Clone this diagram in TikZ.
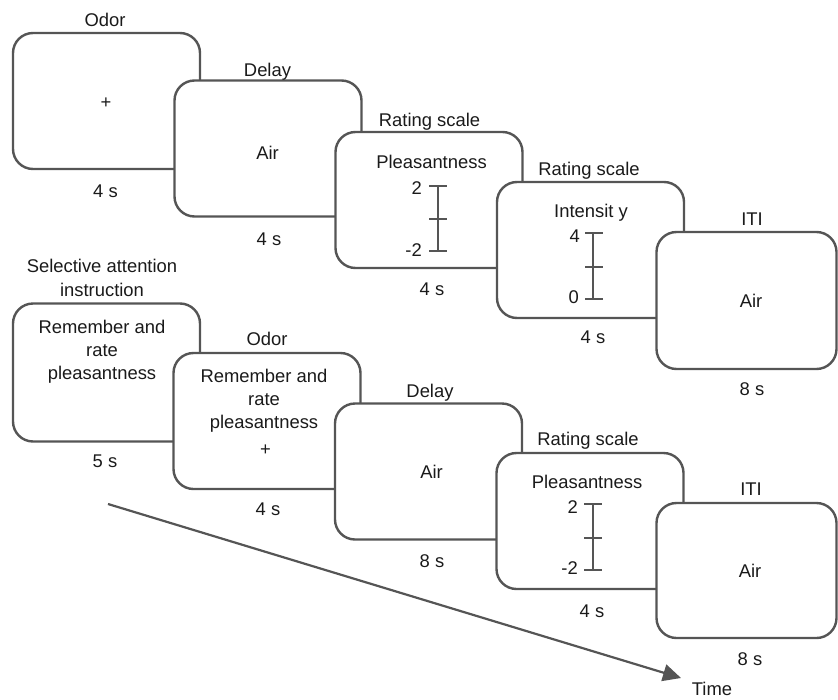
\documentclass[tikz,border=0pt]{standalone}
\usepackage{fontspec}
\setmainfont{Liberation Sans}
\usetikzlibrary{arrows.meta}
\definecolor{lc}{HTML}{555555}
\definecolor{tc}{HTML}{1A1A1A}
\begin{document}
\begin{tikzpicture}[x=1pt,y=-1pt,
  frame/.style={draw=lc, line width=2.4pt, fill=white, rounded corners=20pt, inner sep=0pt, outer sep=0pt, minimum width=187pt, minimum height=136pt},
  txt/.style={text=tc, font=\fontsize{18.4}{23.2}\selectfont, inner sep=0pt, anchor=base},
  mtxt/.style={text=tc, font=\fontsize{18.4}{23.2}\selectfont, inner sep=0pt, align=center, anchor=center},
  lbl/.style={txt, anchor=base east},
  scl/.style={draw=lc, line width=1.6pt},
  arr/.style={draw=lc, line width=2.2pt, -{Triangle[length=18pt,width=17pt]}}
]
\useasboundingbox (0,0) rectangle (838,699);

% ---------- top row ----------
\node[frame] (b1) at (106.5,101) {};
\node[txt] (b1t) at (105,26) {Odor};
\node[txt, anchor=center] (b1c) at (106,103) {+};
\node[txt] (b1d) at (105.5,197) {4 s};

\node[frame] (b2) at (268,148.5) {};
\node[txt] (b2t) at (267.5,76) {Delay};
\node[txt] (b2c) at (267.5,159) {Air};
\node[txt] (b2d) at (269,245) {4 s};

\node[frame] (b3) at (429,200) {};
\node[txt] (b3t) at (429.5,126) {Rating scale};
\node[txt] (b3c) at (431.5,168) {Pleasantness};
\draw[scl] (438,186) -- (438,251);
\draw[scl] (429,186) -- (447,186);
\draw[scl] (429,219) -- (447,219);
\draw[scl] (429,251) -- (447,251);
\node[lbl] (b3h) at (422,194) {2};
\node[lbl] (b3l) at (422,256) {-2};
\node[txt] (b3d) at (432,295) {4 s};

\node[frame] (b4) at (590.5,250) {};
\node[txt] (b4t) at (589,175) {Rating scale};
\node[txt] (b4c) at (591,217) {Intensit y};
\draw[scl] (593,233) -- (593,299);
\draw[scl] (585,233) -- (603,233);
\draw[scl] (585,267) -- (603,267);
\draw[scl] (585,299) -- (603,299);
\node[lbl] (b4h) at (580,242) {4};
\node[lbl] (b4l) at (579,303) {0};
\node[txt] (b4d) at (593,343) {4 s};

\node[frame, minimum width=180pt, minimum height=137pt] (b5) at (746.5,300.5) {};
\node[txt] (b5t) at (752,225) {ITI};
\node[txt] (b5c) at (751,307) {Air};
\node[txt] (b5d) at (752,395) {8 s};

% ---------- bottom row ----------
\node[mtxt] (a0) at (102,278) {Selective attention\\instruction};
\node[frame, minimum height=138pt] (c1) at (106.5,372.5) {};
\node[mtxt] (c1c) at (102,352) {Remember and\\rate\\pleasantness};
\node[txt] (c1d) at (105,467) {5 s};

\node[frame] (c2) at (267,421) {};
\node[txt] (c2t) at (267,345) {Odor};
\node[mtxt] (c2c) at (264,400.5) {Remember and\\rate\\pleasantness};
\node[txt, anchor=center] (c2p) at (265.5,450) {+};
\node[txt] (c2d) at (268,515) {4 s};

\node[frame] (c3) at (428.5,471.5) {};
\node[txt] (c3t) at (430,397) {Delay};
\node[txt] (c3c) at (431.5,478) {Air};
\node[txt] (c3d) at (432,567) {8 s};

\node[frame] (c4) at (590,521) {};
\node[txt] (c4t) at (588,445) {Rating scale};
\node[txt] (c4c) at (587,488) {Pleasantness};
\draw[scl] (593,504) -- (593,570);
\draw[scl] (584,504) -- (602,504);
\draw[scl] (584,538) -- (602,538);
\draw[scl] (584,570) -- (602,570);
\node[lbl] (c4h) at (578,513) {2};
\node[lbl] (c4l) at (578,574) {-2};
\node[txt] (c4d) at (592,617) {4 s};

\node[frame, minimum width=180pt, minimum height=135pt] (c5) at (746.5,570.5) {};
\node[txt] (c5t) at (751,495) {ITI};
\node[txt] (c5c) at (750,577) {Air};
\node[txt] (c5d) at (750,665) {8 s};

% ---------- time arrow ----------
\coordinate (t0) at (108,504);
\coordinate (t1) at (681,678);
\draw[arr] (t0) -- (t1);
\node[txt] (tl) at (712,695) {Time};
\end{tikzpicture}
\end{document}
